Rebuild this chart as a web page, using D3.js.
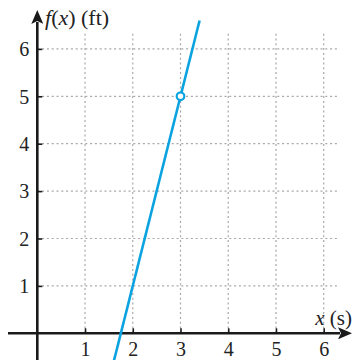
<!DOCTYPE html>
<html>
<head>
<meta charset="utf-8">
<script src="https://cdn.jsdelivr.net/npm/d3@7"></script>
<style>
  html, body { margin: 0; padding: 0; background: #fff; }
  svg { display: block; }
</style>
</head>
<body>
<svg id="chart" width="354" height="360"></svg>
<script>
// Tick values along each axis
const xTicks = [1, 2, 3, 4, 5, 6];
const yTicks = [1, 2, 3, 4, 5, 6];
// f(x) = 4x - 7 : slope and intercept
const slope = [4];
const intercept = [-7];
// Open (hollow) point on the line
const openPointX = [3];
const openPointY = [5];
// Ends of the drawn line segment (x values)
const lineX = [1.6, 3.4];

const width = 354, height = 360;
const serif = "'Liberation Serif', 'Times New Roman', serif";
const svg = d3.select("#chart").attr("font-family", serif);

const x = d3.scaleLinear().domain([0, 6]).range([37.3, 323.7]);
const y = d3.scaleLinear().domain([0, 6]).range([333.3, 48.9]);

const axisColor = "#1a1a1a";
const gridColor = "#a8a8a8";
const lineColor = "#0aa3e0";
const textColor = "#222";

// Dotted grid
const grid = svg.append("g");
grid.selectAll("line.v").data(xTicks).join("line")
  .attr("x1", d => x(d)).attr("x2", d => x(d))
  .attr("y1", y(0)).attr("y2", 31)
  .attr("stroke", gridColor).attr("stroke-width", 1.2)
  .attr("stroke-dasharray", "2,2.8");
grid.selectAll("line.h").data(yTicks).join("line")
  .attr("x1", x(0)).attr("x2", 337)
  .attr("y1", d => y(d)).attr("y2", d => y(d))
  .attr("stroke", gridColor).attr("stroke-width", 1.2)
  .attr("stroke-dasharray", "2,2.8");

// Arrowhead marker
const defs = svg.append("defs");
defs.append("marker")
  .attr("id", "arrow")
  .attr("viewBox", "0 0 14 12")
  .attr("refX", 2).attr("refY", 6)
  .attr("markerWidth", 14).attr("markerHeight", 12)
  .attr("markerUnits", "userSpaceOnUse")
  .attr("orient", "auto")
  .append("path")
  .attr("d", "M0,0 L14,6 L0,12 L3,6 Z")
  .attr("fill", axisColor);

// Axes lines
svg.append("line")
  .attr("x1", 8).attr("x2", 340)
  .attr("y1", y(0)).attr("y2", y(0))
  .attr("stroke", axisColor).attr("stroke-width", 2.6)
  .attr("marker-end", "url(#arrow)");
svg.append("line")
  .attr("x1", x(0)).attr("x2", x(0))
  .attr("y1", height).attr("y2", 22)
  .attr("stroke", axisColor).attr("stroke-width", 2.6)
  .attr("marker-end", "url(#arrow)");

// Axis ticks and labels via d3 axes
const xAxis = d3.axisBottom(x).tickValues(xTicks).tickSize(0).tickPadding(0).tickFormat(d3.format("d"));
const gx = svg.append("g").attr("transform", `translate(0,${y(0)})`).call(xAxis)
  .attr("font-family", serif).attr("font-size", 20);
gx.select(".domain").remove();
gx.selectAll(".tick text").attr("dy", null).attr("y", 23).attr("fill", textColor);
gx.selectAll(".tick").append("line")
  .attr("y1", 0).attr("y2", -5).attr("stroke", axisColor).attr("stroke-width", 1.6);

const yAxis = d3.axisLeft(y).tickValues(yTicks).tickSize(0).tickPadding(0).tickFormat(d3.format("d"));
const gy = svg.append("g").attr("transform", `translate(${x(0)},0)`).call(yAxis)
  .attr("font-family", serif).attr("font-size", 20);
gy.select(".domain").remove();
gy.selectAll(".tick text").attr("x", -8).attr("dy", "0.34em").attr("fill", textColor);
gy.selectAll(".tick").append("line")
  .attr("x1", 0).attr("x2", 5).attr("stroke", axisColor).attr("stroke-width", 1.6);

// Axis titles
const yTitle = svg.append("text").attr("x", 45).attr("y", 25)
  .attr("font-size", 22).attr("fill", textColor);
yTitle.append("tspan").attr("font-style", "italic").text("f");
yTitle.append("tspan").text("(");
yTitle.append("tspan").attr("font-style", "italic").text("x");
yTitle.append("tspan").text(") (ft)");

const xTitle = svg.append("text").attr("x", 352).attr("y", 325)
  .attr("text-anchor", "end")
  .attr("font-size", 21).attr("fill", textColor);
xTitle.append("tspan").attr("font-style", "italic").text("x");
xTitle.append("tspan").text(" (s)");

// The line f(x)
const f = v => slope[0] * v + intercept[0];
svg.append("path")
  .datum(lineX.map(v => [v, f(v)]))
  .attr("d", d3.line().x(d => x(d[0])).y(d => y(d[1])))
  .attr("fill", "none").attr("stroke", lineColor).attr("stroke-width", 2.6);

// Open circle
svg.selectAll("circle.open").data(openPointX.map((v, i) => [v, openPointY[i]])).join("circle")
  .attr("cx", d => x(d[0])).attr("cy", d => y(d[1])).attr("r", 3.8)
  .attr("fill", "#fff").attr("stroke", lineColor).attr("stroke-width", 2.2);
</script>
</body>
</html>
